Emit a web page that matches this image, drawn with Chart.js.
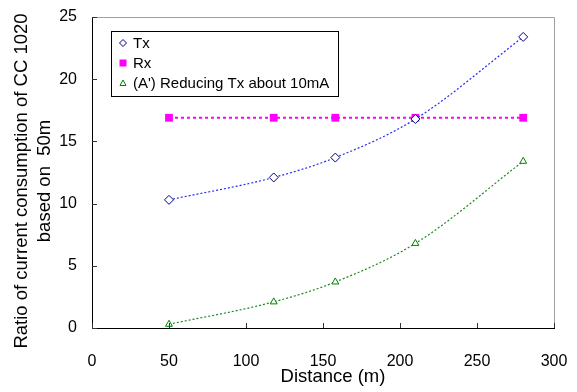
<!DOCTYPE html>
<html>
<head>
<meta charset="utf-8">
<script src="https://cdn.jsdelivr.net/npm/chart.js@4/dist/chart.umd.min.js"></script>
<style>
html,body{margin:0;padding:0;background:#fff;}
#wrap{width:577px;height:392px;position:relative;}
</style>
</head>
<body>
<div id="wrap"><canvas id="c" width="577" height="392"></canvas></div>
<script>
const distances = [50, 118, 158, 210, 280];
const txValues = [10.3, 12.1, 13.7, 16.8, 23.4];
const rxValues = [16.9, 16.9, 16.9, 16.9, 16.9];
const reducedValues = [0.3, 2.1, 3.7, 6.8, 13.4];
const seriesLabels = ['Tx', 'Rx', "(A') Reducing Tx about 10mA"];
const xTicks = [0, 50, 100, 150, 200, 250, 300];
const yTicks = [0, 5, 10, 15, 20, 25];
const xTitle = 'Distance (m)';
const yTitle = ['Ratio of current consumption of CC 1020', 'based on  50m'];

const FONT = "'Liberation Sans', Arial, sans-serif";

function pts(ys){ return distances.map((x,i)=>({x:x,y:ys[i]})); }

const frame = {
  id:'frame',
  afterDraw(chart){
    const ctx = chart.ctx, a = chart.chartArea;
    const xs = chart.scales.x, ys = chart.scales.y;
    ctx.save();
    ctx.strokeStyle = '#a0a0a0'; ctx.lineWidth = 1;
    ctx.beginPath();
    ctx.moveTo(a.left, a.top+0.5); ctx.lineTo(a.right+0.5, a.top+0.5); ctx.lineTo(a.right+0.5, a.bottom);
    ctx.stroke();
    ctx.strokeStyle = '#000'; ctx.lineWidth = 1;
    ctx.beginPath();
    ctx.moveTo(a.left+0.5, a.top); ctx.lineTo(a.left+0.5, a.bottom+0.5); ctx.lineTo(a.right+1, a.bottom+0.5);
    ctx.stroke();
    ctx.strokeStyle = '#333';
    ctx.beginPath();
    xs.ticks.forEach(t=>{ const px=Math.round(xs.getPixelForValue(t.value))+0.5; ctx.moveTo(px,a.bottom); ctx.lineTo(px,a.bottom-5); });
    ys.ticks.forEach(t=>{ const py=Math.round(ys.getPixelForValue(t.value))+0.5; ctx.moveTo(a.left,py); ctx.lineTo(a.left+5,py); });
    ctx.stroke();
    ctx.fillStyle = '#000';
    ctx.font = '18.5px ' + FONT;
    ctx.textAlign = 'center'; ctx.textBaseline = 'middle';
    ctx.fillText(xTitle, 333, 377);
    ctx.translate(0, 181);
    ctx.rotate(-Math.PI/2);
    ctx.fillText(yTitle[0], 0, 22);
    ctx.fillText(yTitle[1], 0, 45);
    ctx.restore();
  }
};

const boxLegend = {
  id:'boxLegend',
  afterDraw(chart){
    const ctx = chart.ctx;
    const x0 = 111, y0 = 31, w = 227, h = 65;
    ctx.save();
    ctx.fillStyle = '#fff'; ctx.fillRect(x0,y0,w,h);
    ctx.strokeStyle = '#000'; ctx.lineWidth = 1;
    ctx.strokeRect(x0+0.5,y0+0.5,w,h);
    ctx.font = '15px ' + FONT;
    ctx.textBaseline = 'middle';
    chart.data.datasets.forEach((ds,i)=>{
      const cy = y0 + 12 + i*20, cx = x0 + 12;
      ctx.fillStyle = ds.pointBackgroundColor;
      ctx.strokeStyle = ds.pointBorderColor;
      ctx.lineWidth = 1;
      if (ds.pointStyle === 'rectRot') {
        ctx.beginPath(); ctx.moveTo(cx, cy-3.5); ctx.lineTo(cx+3.5, cy); ctx.lineTo(cx, cy+3.5); ctx.lineTo(cx-3.5, cy); ctx.closePath(); ctx.fill(); ctx.stroke();
      } else if (ds.pointStyle === 'rect') {
        ctx.fillRect(cx-3.5, cy-3.5, 7, 7);
      } else {
        ctx.beginPath(); ctx.moveTo(cx, cy-3); ctx.lineTo(cx+3, cy+2.5); ctx.lineTo(cx-3, cy+2.5); ctx.closePath(); ctx.fill(); ctx.stroke();
      }
      ctx.fillStyle = '#000';
      ctx.fillText(ds.label, x0 + 22, cy + 1);
    });
    ctx.restore();
  }
};

new Chart(document.getElementById('c'), {
  type:'line',
  data:{
    datasets:[
      {label:seriesLabels[0], data:pts(txValues), borderColor:'#2a2af5', borderWidth:1.2, borderDash:[2,2],
       pointStyle:'rectRot', pointRadius:4.5, pointBorderColor:'#000080', pointBackgroundColor:'#fff', pointBorderWidth:1,
       cubicInterpolationMode:'monotone'},
      {label:seriesLabels[1], data:pts(rxValues), borderColor:'#ff00ff', borderWidth:2, borderDash:[3,3],
       pointStyle:'rect', pointRadius:5.5, pointBorderColor:'#ff00ff', pointBackgroundColor:'#ff00ff', pointBorderWidth:0},
      {label:seriesLabels[2], data:pts(reducedValues), borderColor:'#1e8a1e', borderWidth:1.2, borderDash:[2,2],
       pointStyle:'triangle', pointRadius:4, pointBorderColor:'#008000', pointBackgroundColor:'#fff', pointBorderWidth:1,
       cubicInterpolationMode:'monotone'}
    ]
  },
  options:{
    responsive:false, animation:false, devicePixelRatio:1,
    layout:{padding:{left:0, right:23, top:17, bottom:0}},
    plugins:{legend:{display:false}, tooltip:{enabled:false}},
    scales:{
      x:{type:'linear', min:0, max:300,
        afterBuildTicks(s){ s.ticks = xTicks.map(v=>({value:v})); },
        afterFit(s){ s.height = 64; s.paddingRight = 0; s.paddingLeft = 0; },
        grid:{display:false, drawTicks:false}, border:{display:false},
        ticks:{color:'#000', font:{family:FONT, size:16}, padding:24, maxRotation:0},
        title:{display:false}
      },
      y:{type:'linear', min:0, max:25,
        afterBuildTicks(s){ s.ticks = yTicks.map(v=>({value:v})); },
        afterFit(s){ s.width = 92; s.paddingTop = 0; s.paddingBottom = 0; },
        grid:{display:false, drawTicks:false}, border:{display:false},
        ticks:{color:'#000', font:{family:FONT, size:16}, padding:15},
        title:{display:false}
      }
    }
  },
  plugins:[frame, boxLegend]
});
</script>
</body>
</html>
